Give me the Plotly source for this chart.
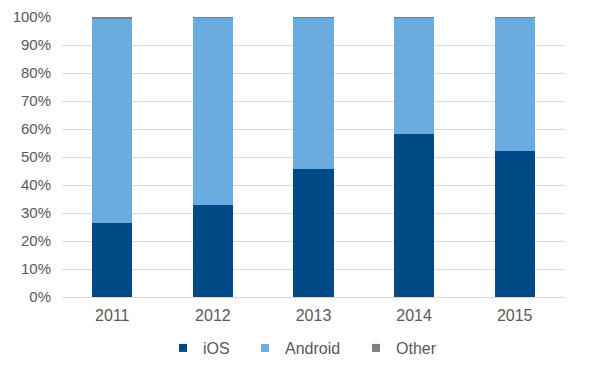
import plotly.graph_objects as go

years = ["2011", "2012", "2013", "2014", "2015"]
ios = [26.6, 32.8, 45.8, 58.3, 52.1]
other = [0.8, 0.3, 0.2, 0.2, 0.2]
android = [round(100 - i - o, 1) for i, o in zip(ios, other)]

series = [
    ("iOS", ios, "#004b87"),
    ("Android", android, "#6aacdf"),
    ("Other", other, "#7f7f7f"),
]

# legend text start positions (pixels, page coords) for one legend per series
legend_text_px = [203, 285, 396]

OFF = 8  # page body margin of the rendered html
W, H = 600 - OFF, 375 - OFF
L, R, T, B = 62 - OFF, 35, 17 - OFF, 78
pw, ph = W - L - R, H - T - B

fig = go.Figure()
for name, vals, col in series:
    fig.add_trace(go.Bar(
        x=years, y=vals, name=name, showlegend=False,
        marker=dict(color=col, line=dict(width=0)),
    ))

legend_layouts = {}
for k, ((name, vals, col), tx) in enumerate(zip(series, legend_text_px)):
    lname = "legend" if k == 0 else f"legend{k+1}"
    fig.add_trace(go.Scatter(
        x=[None], y=[None], mode="markers", name=name, legend=lname,
        marker=dict(symbol="square", size=8, color=col),
        showlegend=True, hoverinfo="skip",
    ))
    legend_layouts[lname] = dict(
        orientation="h", x=(tx - 40 - (L + OFF)) / pw, xanchor="left",
        y=((T + OFF) + ph - 348) / ph, yanchor="middle",
        font=dict(size=16, color="#595959"), bgcolor="rgba(0,0,0,0)",
        borderwidth=0,
    )

fig.update_layout(
    barmode="stack",
    bargap=0.6,
    width=W, height=H,
    margin=dict(l=L, r=R, t=T, b=B, autoexpand=False),
    paper_bgcolor="white", plot_bgcolor="white",
    font=dict(family="Liberation Sans, Arial, sans-serif", size=15, color="#595959"),
    showlegend=True,
    xaxis=dict(showgrid=False, showline=True, linecolor="#d9d9d9", linewidth=1,
               ticks="", automargin=False, ticklabelstandoff=4,
               tickfont=dict(size=16, color="#595959")),
    yaxis=dict(range=[0, 100], dtick=10, ticksuffix="%", showgrid=True,
               gridcolor="#d9d9d9", gridwidth=1, zeroline=False, showline=False,
               automargin=False, ticklabelstandoff=10,
               tickfont=dict(size=15, color="#595959")),
    **legend_layouts,
)

fig.write_html("out.html")
